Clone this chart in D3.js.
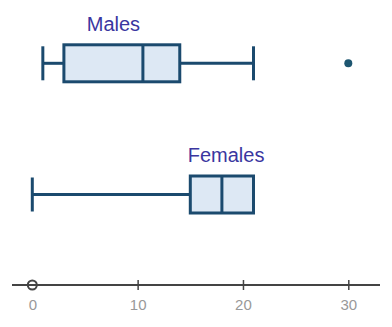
<!DOCTYPE html>
<html>
<head>
<meta charset="utf-8">
<script src="https://cdn.jsdelivr.net/npm/d3@7"></script>
<style>
  body { margin: 0; background: #fff; }
  svg { display: block; font-family: "Liberation Sans", Arial, sans-serif; }
</style>
</head>
<body>
<svg id="canvas"></svg>
<script>
// data
const groups = ['Males', 'Females'];
const mins = [1, 0];
const q1s = [3, 15];
const medians = [10.5, 18];
const q3s = [14, 21];
const maxs = [21, 21];
const outliers = [[30], []];
const labelAt = [7.7, 18.4]; // where the group names sit, in data units
const tickValues = [0, 10, 20, 30];

const width = 392;
const height = 327;

const svg = d3.select('#canvas')
    .attr('width', width)
    .attr('height', height);

const xScale = d3.scaleLinear()
    .domain([0, 30])
    .range([32.3, 348.3]);

const yScale = d3.scalePoint()
    .domain(groups)
    .range([63.3, 194.5]);

const boxH = 37;
const capH = 34;
const stroke = '#1b4a6e';

// axis
const axisY = 285;
svg.append('line')
    .attr('x1', 12).attr('x2', 380)
    .attr('y1', axisY).attr('y2', axisY)
    .attr('stroke', '#444').attr('stroke-width', 2);

const xAxis = d3.axisBottom(xScale)
    .tickValues(tickValues)
    .tickSize(0)
    .tickPadding(0);

const ax = svg.append('g')
    .attr('transform', 'translate(0,' + axisY + ')')
    .call(xAxis);
ax.select('.domain').remove();
ax.selectAll('.tick line').remove();
ax.selectAll('.tick')
    .filter(d => d !== 0)
    .append('line')
    .attr('y1', -5).attr('y2', 5)
    .attr('stroke', '#444').attr('stroke-width', 1.5);
ax.selectAll('.tick text')
    .attr('y', 14)
    .attr('dy', '0.71em')
    .attr('fill', '#999')
    .attr('font-size', 15)
    .attr('font-family', '"Liberation Sans", Arial, sans-serif');
svg.append('circle')
    .attr('cx', xScale(0)).attr('cy', axisY).attr('r', 4.5)
    .attr('fill', 'none').attr('stroke', '#444').attr('stroke-width', 2);

// boxes
groups.forEach((g, i) => {
    const cy = yScale(g);
    const gg = svg.append('g');
    // whiskers
    gg.append('line')
        .attr('x1', xScale(mins[i])).attr('x2', xScale(q1s[i]))
        .attr('y1', cy).attr('y2', cy)
        .attr('stroke', stroke).attr('stroke-width', 3);
    gg.append('line')
        .attr('x1', xScale(q3s[i])).attr('x2', xScale(maxs[i]))
        .attr('y1', cy).attr('y2', cy)
        .attr('stroke', stroke).attr('stroke-width', 3);
    [mins[i], maxs[i]].forEach(v => {
        gg.append('line')
            .attr('x1', xScale(v)).attr('x2', xScale(v))
            .attr('y1', cy - capH / 2).attr('y2', cy + capH / 2)
            .attr('stroke', stroke).attr('stroke-width', 3);
    });
    gg.append('rect')
        .attr('x', xScale(q1s[i]))
        .attr('y', cy - boxH / 2)
        .attr('width', xScale(q3s[i]) - xScale(q1s[i]))
        .attr('height', boxH)
        .attr('fill', '#dde8f4')
        .attr('stroke', stroke).attr('stroke-width', 3);
    gg.append('line')
        .attr('x1', xScale(medians[i])).attr('x2', xScale(medians[i]))
        .attr('y1', cy - boxH / 2).attr('y2', cy + boxH / 2)
        .attr('stroke', stroke).attr('stroke-width', 3);
    outliers[i].forEach(v => {
        gg.append('circle')
            .attr('cx', xScale(v)).attr('cy', cy).attr('r', 4)
            .attr('fill', '#1d5670');
    });
    // label over the box
    gg.append('text')
        .attr('x', xScale(labelAt[i]))
        .attr('y', cy - boxH / 2 - 14)
        .attr('text-anchor', 'middle')
        .attr('font-size', 20)
        .attr('fill', '#3a36a0')
        .text(g);
});
</script>
</body>
</html>
